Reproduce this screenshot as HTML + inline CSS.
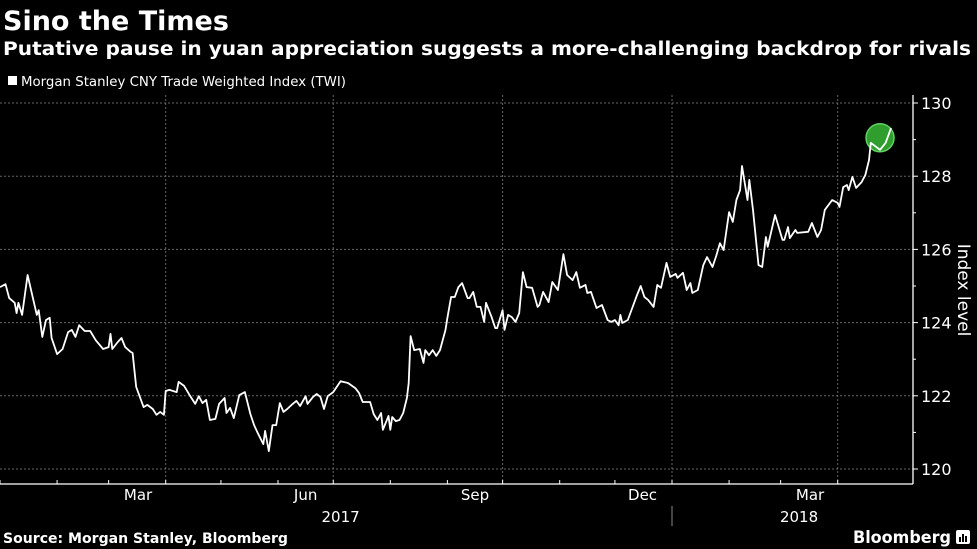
<!DOCTYPE html>
<html><head><meta charset="utf-8"><style>
html,body{margin:0;padding:0;background:#000;}
svg{display:block;font-family:"DejaVu Sans","Liberation Sans",sans-serif;}
</style></head><body>
<svg id="chart" width="977" height="549" viewBox="0 0 977 549">
<rect width="977" height="549" fill="#000"/>
<text x="3" y="30" fill="#fff" font-size="27" font-weight="bold">Sino the Times</text>
<text x="3" y="55" fill="#fff" font-size="18.5" font-weight="bold" textLength="968" lengthAdjust="spacingAndGlyphs">Putative pause in yuan appreciation suggests a more-challenging backdrop for rivals</text>
<rect x="8" y="76" width="9" height="9" fill="#fff"/>
<text x="21" y="86" fill="#fff" font-size="13" textLength="325" lengthAdjust="spacingAndGlyphs">Morgan Stanley CNY Trade Weighted Index (TWI)</text>
<g id="grid"></g>
<g id="axes"></g>
<g id="series"></g>
<text x="0" y="0" fill="#fff" font-size="17" transform="translate(958,290) rotate(90)" text-anchor="middle">Index level</text>
<text x="3" y="543" fill="#fff" font-size="14" font-weight="bold" textLength="285" lengthAdjust="spacingAndGlyphs">Source: Morgan Stanley, Bloomberg</text>
<text x="853" y="543" fill="#fff" font-size="17" font-weight="bold" textLength="98" lengthAdjust="spacingAndGlyphs">Bloomberg</text>
<g><rect x="956" y="530" width="14" height="14" rx="2" fill="#fff"/><rect x="959" y="537" width="2" height="5" fill="#000"/><rect x="962" y="534" width="2" height="8" fill="#000"/><rect x="965" y="536" width="2" height="6" fill="#000"/></g>
</svg>
<script>
const days=[0,3,5,8,9,10,12,15,20,21,23,25,27,28,31,34,37,39,41,43,46,49,52,56,59,60,61,64,66,68,71,72,74,78,80,83,85,87,89,90,92,96,97,100,103,106,108,110,112,114,117,119,122,123,125,127,130,133,136,138,140,143,144,146,148,150,152,154,156,159,161,163,166,167,170,172,174,176,178,181,185,189,193,195,197,201,203,205,207,208,211,212,213,215,217,219,221,222,223,225,228,230,231,233,235,237,239,242,243,245,247,249,251,254,255,257,259,261,263,264,267,269,270,273,274,276,278,280,282,284,286,289,292,293,295,298,300,303,306,308,311,313,315,318,319,321,324,327,330,332,334,336,337,338,341,346,348,350,352,355,357,359,362,364,367,368,371,373,375,376,379,382,384,387,389,391,393,396,398,400,402,403,406,407,409,412,414,416,417,421,425,426,428,429,432,433,439,441,444,446,448,452,455,456,458,460,461,463,465,468,470,472,473,478,481,484];
const values=[124.97,125.05,124.67,124.54,124.26,124.54,124.21,125.30,124.21,124.34,123.61,124.07,124.13,123.58,123.14,123.28,123.74,123.80,123.61,123.93,123.77,123.77,123.52,123.28,123.33,123.69,123.28,123.47,123.58,123.33,123.20,123.17,122.24,121.69,121.75,121.64,121.48,121.56,121.48,122.13,122.16,122.10,122.38,122.27,122.02,121.78,121.99,121.80,121.89,121.34,121.37,121.78,121.94,121.53,121.67,121.39,122.02,122.10,121.50,121.20,120.98,120.68,121.04,120.49,121.20,121.20,121.80,121.56,121.64,121.78,121.86,121.72,121.99,121.78,121.97,122.05,121.97,121.64,121.99,122.10,122.40,122.35,122.21,122.08,121.83,121.83,121.50,121.34,121.53,121.07,121.45,121.07,121.42,121.31,121.34,121.53,121.94,122.35,123.63,123.25,123.28,122.90,123.25,123.11,123.25,123.09,123.25,123.80,124.13,124.70,124.70,124.97,125.08,124.67,124.67,124.84,124.43,124.43,124.02,124.54,124.15,123.85,123.85,124.34,123.80,124.21,124.15,124.02,124.26,125.38,124.97,124.95,124.43,124.48,124.84,124.56,125.11,124.89,125.87,125.30,125.16,125.38,124.95,125.03,124.81,124.84,124.40,124.48,124.07,124.02,124.07,123.93,124.21,123.99,124.07,124.75,125.00,124.70,124.62,124.43,125.03,124.95,125.63,125.25,125.33,125.22,125.36,124.89,125.08,124.81,124.89,125.57,125.79,125.52,125.82,126.17,125.98,127.02,126.75,127.35,127.62,128.28,127.35,127.90,127.08,125.57,125.52,126.34,126.07,126.94,126.26,126.26,126.61,126.31,126.53,126.45,126.48,126.72,126.34,126.53,127.08,127.35,127.27,127.16,127.70,127.76,127.62,127.98,127.68,127.84,128.03,128.44,128.91,128.72,128.91,129.32];
const yTicks=[120,122,124,126,128,130];
const monthStarts=[0,31,59,90,120,151,181,212,243,273,304,334,365,396,424,455];
const quarterStarts=[90,181,273,365,455];
const monthLabels=["Mar","Jun","Sep","Dec","Mar"];
const monthLabelDays=[75,166,258,349,440];
const yearLabels=["2017","2018"];
const yearLabelDays=[185,434];
const highlightDay=478, highlightVal=129.05;

const NS="http://www.w3.org/2000/svg";
const X0=0,PX_PER_DAY=672/365,Y120=469,PX_PER_UNIT=36.6,AXIS_X=913,BASE_Y=484;
function xs(d){return X0+d*PX_PER_DAY;}
function ys(v){return Y120-(v-120)*PX_PER_UNIT;}
function mk(tag,attrs,parent){const e=document.createElementNS(NS,tag);for(const k in attrs)e.setAttribute(k,attrs[k]);parent.appendChild(e);return e;}
const grid=document.getElementById('grid'),axes=document.getElementById('axes'),series=document.getElementById('series');

yTicks.forEach(v=>{
  const l=mk('line',{x1:0,x2:AXIS_X,y1:ys(v),y2:ys(v),stroke:'#666','stroke-width':1,'stroke-dasharray':'2,2'},grid);
  
  
  const t=mk('line',{x1:AXIS_X,x2:AXIS_X+5,y1:ys(v),y2:ys(v),stroke:'#fff','stroke-width':1},axes);
  
  
  const lb=mk('text',{x:AXIS_X+8,y:ys(v)+6,fill:'#fff','font-size':16},axes);
  lb.textContent=v;
  
  
});
for(let v=121;v<=129;v+=2){
  const t=mk('line',{x1:AXIS_X,x2:AXIS_X+3,y1:ys(v),y2:ys(v),stroke:'#fff','stroke-width':1},axes);
  
  
}
quarterStarts.forEach(d=>{
  const l=mk('line',{x1:xs(d),x2:xs(d),y1:95,y2:BASE_Y,stroke:'#666','stroke-width':1,'stroke-dasharray':'2,2'},grid);
  
  
});
monthStarts.forEach(d=>{
  const t=mk('line',{x1:xs(d),x2:xs(d),y1:BASE_Y,y2:BASE_Y-4,stroke:'#fff','stroke-width':1},axes);
  
  
});
const ya=mk('line',{x1:AXIS_X,x2:AXIS_X,y1:95,y2:BASE_Y,stroke:'#fff','stroke-width':1.3},axes);


const xa=mk('line',{x1:0,x2:AXIS_X,y1:BASE_Y,y2:BASE_Y,stroke:'#fff','stroke-width':1.3},axes);


monthLabels.forEach((m,i)=>{
  const t=mk('text',{x:xs(monthLabelDays[i]),y:500,fill:'#fff','font-size':15,'text-anchor':'middle'},axes);
  t.textContent=m;
  
  
});
yearLabels.forEach((yl,i)=>{
  const t=mk('text',{x:xs(yearLabelDays[i]),y:522,fill:'#fff','font-size':15,'text-anchor':'middle'},axes);
  t.textContent=yl;
  
  
});
const yd=mk('line',{x1:xs(365),x2:xs(365),y1:506,y2:526,stroke:'#888','stroke-width':1},axes);



const c=mk('circle',{cx:xs(highlightDay),cy:ys(highlightVal),r:14,fill:'#2f9e2f',stroke:'#5fd35f','stroke-width':1.5},series);


const pts=days.map((d,i)=>xs(d).toFixed(1)+','+ys(values[i]).toFixed(1)).join(' ');
const pl=mk('polyline',{points:pts,fill:'none',stroke:'#fff','stroke-width':1.8,'stroke-linejoin':'round'},series);


</script>
</body></html>
